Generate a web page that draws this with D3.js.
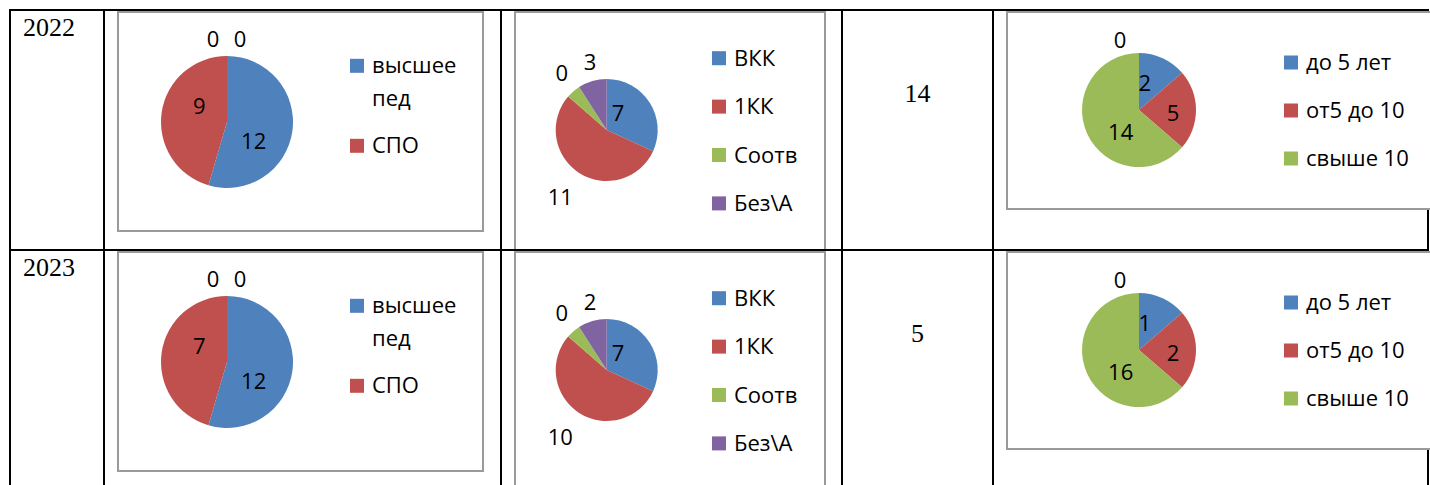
<!DOCTYPE html>
<html>
<head>
<meta charset="utf-8">
<script src="https://cdn.jsdelivr.net/npm/d3@7"></script>
<style>
  body { margin: 0; background: #fff; }
  .lbl { font-family: "Open Sans", sans-serif; font-size: 22px; fill: #000; }
  .serif { font-family: "Liberation Serif", "Times New Roman", serif; font-size: 26px; fill: #000; }
</style>
</head>
<body>
<div id="chart"></div>
<script>
// data
var years = ["2022", "2023"];
var colors = ["#4F81BD", "#C0504D", "#9BBB59", "#8064A2"];

var eduNames = ["высшее пед", "СПО"];
var eduSlices = [12, 10, 0, 0];                 // slice sizes (same drawing in both rows)
var eduLabels = [[12, 9, 0, 0], [12, 7, 0, 0]]; // data labels per year

var catNames = ["ВКК", "1КК", "Соотв", "Без\\А"];
var catSlices = [7, 12, 1, 2];
var catLabels = [[7, 11, 0, 3], [7, 10, 0, 2]];

var midValues = [14, 5];

var expNames = ["до 5 лет", "от5 до 10", "свыше 10"];
var expSlices = [3, 5, 14, 0];
var expLabels = [[2, 5, 14, 0], [1, 2, 16, 0]];

// layout
var svgWidth = 1430, svgHeight = 485;
var colX = [10, 104, 501, 842, 993, 1428];
var rowTop = [10, 250];

var charts = [
  { names: eduNames, slices: eduSlices, labels: eduLabels,
    frame: {x: 118, y: 2, w: 365, h: 219},
    cx: 227, cy: 112, r: 66,
    labelR: [33, 33, 83, 83],
    nudge: [[-6, 14], [5, -11], [-14, 0], [13, 0]],
    legend: {x: 350, base: 63.3, step: 47, line: 33, wrap: 105} },
  { names: catNames, slices: catSlices, labels: catLabels,
    frame: {x: 515, y: 2, w: 310, h: 238},
    cx: 606.7, cy: 120, r: 51,
    labelR: [25.5, 71, 71, 71],
    nudge: [[-10, -3], [-8, 7], [1.5, -3.5], [3.3, 0]],
    legend: {x: 712, base: 55.7, step: 48.4, line: 33, wrap: 200} },
  { names: expNames, slices: expSlices, labels: expLabels,
    frame: {x: 1007, y: 2, w: 440, h: 197},
    cx: 1139, cy: 100, r: 57,
    labelR: [28.5, 28.5, 28.5, 74],
    nudge: [[-6, -1], [5.5, 3], [7.6, 10.2], [-19, 4]],
    legend: {x: 1284, base: 60, step: 48, line: 33, wrap: 200} }
];

var svg = d3.select("#chart")
    .append("svg")
        .attr("width", svgWidth)
        .attr("height", svgHeight);

// vertical table lines (under the chart frames)
svg.selectAll(".vline")
    .data(colX)
    .enter().append("line")
        .attr("x1", d => d).attr("x2", d => d)
        .attr("y1", 9).attr("y2", svgHeight + 5)
        .style("stroke", "#000").style("stroke-width", 2);

var pie = d3.pie().sort(null).value(d => d);

rowTop.forEach(function(top, ri) {
    var row = svg.append("g").attr("transform", "translate(0," + top + ")");

    row.append("text")
        .attr("class", "serif")
        .attr("x", 23).attr("y", 26)
        .text(years[ri]);

    row.append("text")
        .attr("class", "serif")
        .attr("x", (colX[3] + colX[4]) / 2).attr("y", 91.7)
        .attr("text-anchor", "middle")
        .text(midValues[ri]);

    charts.forEach(function(c) {
        var g = row.append("g");

        g.append("rect")
            .attr("x", c.frame.x).attr("y", c.frame.y)
            .attr("width", c.frame.w).attr("height", c.frame.h)
            .style("fill", "#fff")
            .style("stroke", "#9a9a9a")
            .style("stroke-width", 2);

        var arcs = pie(c.slices);
        var arc = d3.arc().innerRadius(0).outerRadius(c.r);
        var pg = g.append("g").attr("transform", "translate(" + c.cx + "," + c.cy + ")");

        pg.selectAll("path")
            .data(arcs)
            .enter().append("path")
                .attr("d", arc)
                .style("fill", (d, i) => colors[i]);

        pg.selectAll("text")
            .data(arcs)
            .enter().append("text")
                .attr("class", "lbl")
                .attr("text-anchor", "middle")
                .attr("dy", "0.36em")
                .attr("transform", function(d, i) {
                    var p = d3.arc().innerRadius(c.labelR[i]).outerRadius(c.labelR[i]).centroid(d);
                    return "translate(" + (p[0] + c.nudge[i][0]) + "," + (p[1] + c.nudge[i][1]) + ")";
                })
                .text((d, i) => c.labels[ri][i]);

        // legend
        var L = c.legend;
        var base = L.base;
        c.names.forEach(function(name, i) {
            g.append("rect")
                .attr("x", L.x).attr("y", base - 14.5)
                .attr("width", 14).attr("height", 14)
                .style("fill", colors[i]);

            var t = g.append("text")
                .attr("class", "lbl")
                .attr("x", L.x + 22).attr("y", base)
                .text(name);
            var lines = 1;
            if (t.node().getComputedTextLength() > L.wrap) {
                var words = name.split(" ");
                t.text(null);
                words.forEach(function(w, k) {
                    t.append("tspan")
                        .attr("x", L.x + 22)
                        .attr("dy", k === 0 ? 0 : L.line)
                        .text(w);
                });
                lines = words.length;
            }
            base += L.step + (lines - 1) * L.line;
        });
    });
});

// horizontal table lines (on top of the frames)
svg.selectAll(".hline")
    .data(rowTop)
    .enter().append("line")
        .attr("x1", 9).attr("x2", colX[5] + 1)
        .attr("y1", d => d).attr("y2", d => d)
        .style("stroke", "#000").style("stroke-width", 2);
</script>
</body>
</html>
